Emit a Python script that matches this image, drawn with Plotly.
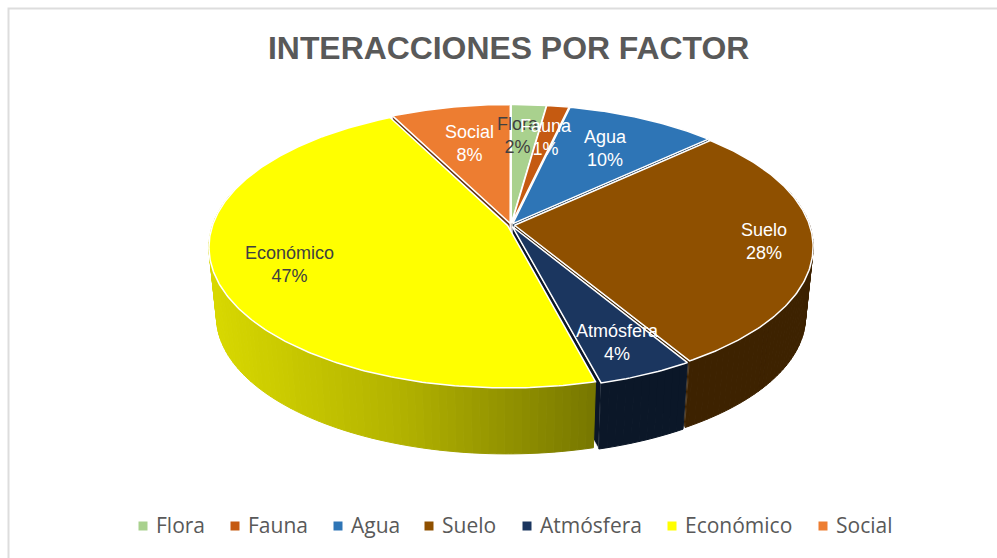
import numpy as np
import plotly.graph_objects as go

categories = ["Flora", "Fauna", "Agua", "Suelo", "Atmósfera", "Económico", "Social"]
values = [2.2, 1.4, 9.5, 28.3, 4.49, 46.61, 7.5]
colors = ["#A9D18E", "#C55A11", "#2E75B6", "#8F5000", "#1B365F", "#FFFF00", "#ED7D31"]
label_colors = ["#404040", "#FFFFFF", "#FFFFFF", "#FFFFFF", "#FFFFFF", "#404040", "#FFFFFF"]
label_radius = [0.72, 0.72, 0.70, 0.85, 0.82, 0.77, 0.67]
label_xshift = [-6, 0, 0, 0, 0, 0, 0]
legend_marker_x = [143, 235, 338, 429, 527, 672, 823]

# projection of the pie disc to the page (pixels)
CX, CY, RX, RY, K = 511, 225, 295, 137.5, 0.152
DEPTH, BOTTOM_SCALE, EXPLODE = 70, 0.975, 0.012
SHADE_X, SHADE_V = [210, 400, 595, 600, 810], [0.85, 0.70, 0.47, 0.43, 0.43]


def project(px, py, bottom=False):
    w = 1 + K * py
    s = BOTTOM_SCALE if bottom else 1.0
    return CX + s * RX * px / w, CY + (DEPTH if bottom else 0) - s * RY * py / w


def shade(col, f):
    r, g, b = int(col[1:3], 16), int(col[3:5], 16), int(col[5:7], 16)
    return f"rgb({int(r*f)},{int(g*f)},{int(b*f)})"


fig = go.Figure()


def poly(x, y, fill, line=None, width=1.0):
    fig.add_trace(go.Scatter(x=list(x), y=list(y), mode="lines", fill="toself", fillcolor=fill,
                             line=dict(color=line or fill, width=width), hoverinfo="skip", showlegend=False))


total = sum(values)
edges = np.cumsum([0] + values) / total * 2 * np.pi
mids = (edges[:-1] + edges[1:]) / 2
order = np.argsort(-np.cos(mids))

# radial walls go first: neighbouring slices hide all but the gap between them
for i in order:
    m = mids[i]
    ox, oy = EXPLODE * np.sin(m), EXPLODE * np.cos(m)
    for a in (edges[i], edges[i + 1]):
        ex, ey = ox + np.sin(a), oy + np.cos(a)
        x1, y1 = project(ox, oy)
        x2, y2 = project(ex, ey)
        x3, y3 = project(ex, ey, True)
        x4, y4 = project(ox, oy, True)
        poly([x1, x2, x3, x4, x1], [y1, y2, y3, y4, y1], shade(colors[i], 0.42), "#FFFFFF", 0.6)

for i in order:
    a0, a1, m = edges[i], edges[i + 1], mids[i]
    ox, oy = EXPLODE * np.sin(m), EXPLODE * np.cos(m)
    th = np.linspace(a0, a1, max(3, int((a1 - a0) / 0.012)))
    px, py = ox + np.sin(th), oy + np.cos(th)

    # outer wall as shaded strips
    tx, ty = project(px, py)
    bx, by = project(px, py, True)
    step = 2
    for j in range(0, len(th) - 1, step):
        e = min(j + step, len(th) - 1)
        if py[j] < 0.25 or py[e] < 0.25:
            f = float(np.interp((tx[j] + tx[e]) / 2, SHADE_X, SHADE_V))
            xs = np.r_[tx[j:e + 1], bx[j:e + 1][::-1], tx[j]]
            ys = np.r_[ty[j:e + 1], by[j:e + 1][::-1], ty[j]]
            poly(xs, ys, shade(colors[i], f))

    # top face
    ax, ay = project(ox, oy)
    poly(np.r_[ax, tx, ax], np.r_[ay, ty, ay], colors[i], "#FFFFFF", 1.5)

annotations = []
for i, c in enumerate(categories):
    r = label_radius[i]
    lx, ly = project(r * np.sin(mids[i]), r * np.cos(mids[i]))
    annotations.append(dict(x=lx, y=ly, xref="x", yref="y", xshift=label_xshift[i], showarrow=False,
                            text=f"{c}<br>{round(values[i] / total * 100)}%",
                            font=dict(family="Liberation Sans", size=18, color=label_colors[i])))
    # legend key
    fig.add_trace(go.Scatter(x=[legend_marker_x[i]], y=[526], mode="markers", hoverinfo="skip", showlegend=False,
                             marker=dict(symbol="square", size=9, color=colors[i])))
    annotations.append(dict(x=legend_marker_x[i] + 11, y=525, xref="x", yref="y", xanchor="left", showarrow=False,
                            text=c, font=dict(family="Open Sans", size=21, color="#595959")))

annotations.append(dict(x=508.5, y=48, xref="x", yref="y", showarrow=False, text="<b>INTERACCIONES POR FACTOR</b>",
                        font=dict(family="Liberation Sans", size=31.9, color="#595959")))

fig.update_layout(
    width=997, height=558, margin=dict(l=0, r=0, t=0, b=0), autosize=False,
    paper_bgcolor="white", plot_bgcolor="white", showlegend=False,
    xaxis=dict(range=[0, 997], visible=False, fixedrange=True),
    yaxis=dict(range=[558, 0], visible=False, fixedrange=True),
    annotations=annotations,
    shapes=[dict(type="rect", x0=8.5, y0=8.5, x1=1010, y1=600, xref="x", yref="y", line=dict(color="#DDDDDD", width=2))],
)
fig.write_html("out.html", config={"displayModeBar": False},
               post_script="document.body.style.margin='0';document.body.style.overflow='hidden';")
